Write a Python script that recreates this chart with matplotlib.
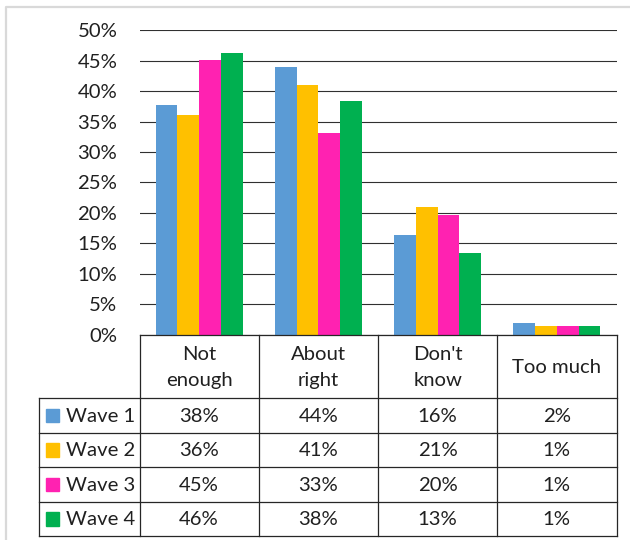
import matplotlib
matplotlib.use("Agg")
import matplotlib.pyplot as plt
from matplotlib.patches import Rectangle
import numpy as np

# ── Data (percent of respondents) ──
categories = ["Not\nenough", "About\nright", "Don't\nknow", "Too much"]
series_names = ["Wave 1", "Wave 2", "Wave 3", "Wave 4"]
wave1 = [37.8, 44.0, 16.3, 1.9]
wave2 = [36.0, 41.0, 20.9, 1.4]
wave3 = [45.1, 33.2, 19.6, 1.4]
wave4 = [46.3, 38.4, 13.4, 1.45]
yticks = [0, 5, 10, 15, 20, 25, 30, 35, 40, 45, 50]

colors = ["#5B9BD5", "#FFC000", "#FF22B1", "#00B050"]
FONT = "Lato"
FS = 14.6

W, H = 630, 540
fig = plt.figure(figsize=(W / 100, H / 100), dpi=100)

# pixel layout of the plot area
px_left, px_right, px_top, px_bottom = 139.5, 616.5, 30.3, 334.5
ax = fig.add_axes([px_left / W, 1 - px_bottom / H,
                   (px_right - px_left) / W, (px_bottom - px_top) / H])

data = [wave1, wave2, wave3, wave4]
x = np.arange(len(categories))
bw = 0.182
for i, (vals, c) in enumerate(zip(data, colors)):
    ax.bar(x + (i - 1.5) * bw, vals, width=bw, color=c, zorder=3)

ax.set_xlim(-0.5, len(categories) - 0.5)
ax.set_ylim(0, 50)
ax.set_yticks(yticks)
ax.set_yticklabels([f"{t}%" for t in yticks], fontsize=FS, family=FONT,
                   color="#202020")
ax.tick_params(axis="y", length=0, pad=16)
ax.set_xticks([])
for s in ax.spines.values():
    s.set_visible(False)
ax.grid(axis="y", color="#303030", lw=0.8, zorder=0)

# ── data table drawn in pixel coordinates ──
tx = fig.add_axes([0, 0, 1, 1], facecolor="none")
tx.set_xlim(0, W)
tx.set_ylim(H, 0)
tx.axis("off")

line_kw = dict(color="#262626", lw=0.9)
col_edges = np.linspace(px_left, px_right, len(categories) + 1)
head_bottom = 398.3
row_h = 34.4
row_edges = [head_bottom + k * row_h for k in range(len(series_names) + 1)]
tab_left = 38.7

# outer light-grey frame of the chart object
tx.plot([5.5, 5.5, W], [H, 6.5, 6.5], color="#D9D9D9", lw=1.6)

tx.plot([px_left, px_right], [px_bottom, px_bottom], **line_kw)
for xe in col_edges:
    tx.plot([xe, xe], [px_bottom, row_edges[-1]], **line_kw)
tx.plot([tab_left, tab_left], [row_edges[0], row_edges[-1]], **line_kw)
for ye in row_edges:
    tx.plot([tab_left, px_right], [ye, ye], **line_kw)

for j, cat in enumerate(categories):
    cx = (col_edges[j] + col_edges[j + 1]) / 2
    tx.text(cx, (px_bottom + head_bottom) / 2 + 1, cat, ha="center",
            va="center", fontsize=FS, family=FONT, color="#202020",
            linespacing=1.6)

for i, (name, vals, c) in enumerate(zip(series_names, data, colors)):
    cy = (row_edges[i] + row_edges[i + 1]) / 2
    tx.add_patch(Rectangle((45.7, cy - 6.8), 13.3, 13.6, color=c))
    tx.text(65.5, cy + 1, name, ha="left", va="center", fontsize=FS,
            family=FONT, color="#202020")
    for j, v in enumerate(vals):
        cx = (col_edges[j] + col_edges[j + 1]) / 2
        tx.text(cx, cy + 1, f"{v:.0f}%", ha="center", va="center",
                fontsize=FS, family=FONT, color="#202020")

fig.savefig("out.png", dpi=100)
